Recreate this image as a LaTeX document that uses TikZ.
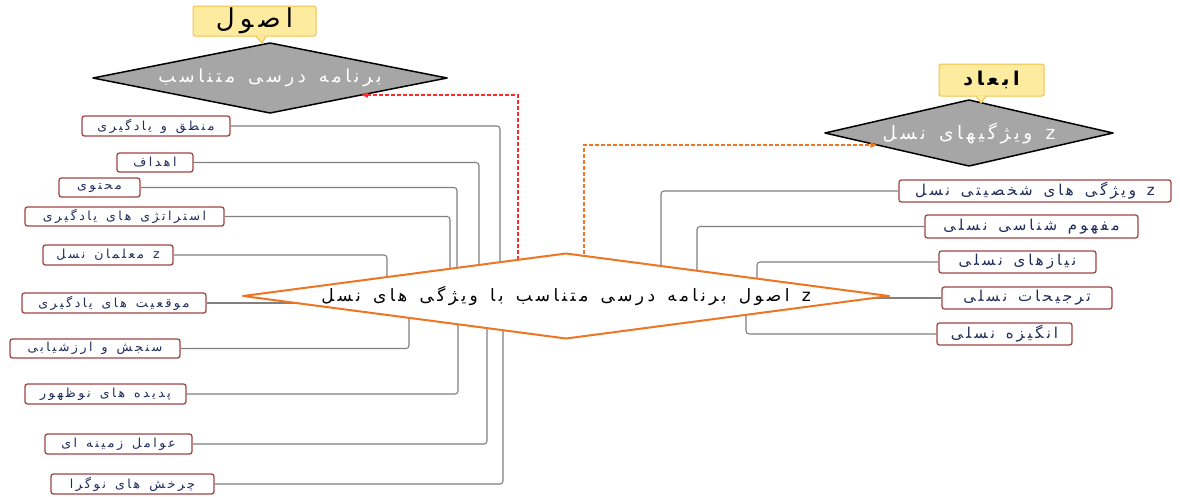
\documentclass[tikz,border=0pt]{standalone}
\usepackage{fontspec}
\setmainfont{DejaVu Sans}
\newfontfamily\fa[Script=Arabic, LetterSpace=20, WordSpace=1.4]{DejaVu Sans}
\TeXXeTstate=1
\usetikzlibrary{shapes.geometric,arrows.meta,calc}
\definecolor{boxred}{HTML}{A24545}
\definecolor{txtblue}{HTML}{1F2D5C}
\definecolor{connc}{HTML}{808080}
\definecolor{orng}{HTML}{EE7623}
\definecolor{dgray}{HTML}{A6A6A6}
\definecolor{calfill}{HTML}{FDEC9F}
\definecolor{caldraw}{HTML}{F1C24B}
\definecolor{redd}{HTML}{FF2A2A}
\newcommand{\rtl}[1]{\beginR #1\endR}
\begin{document}
\begin{tikzpicture}[x=1pt,y=-1pt,
  lbox/.style={draw=boxred, line width=1.3pt, rounded corners=2.5pt, fill=white, inner sep=0pt,
    font=\fa\fontsize{12.5}{13}\selectfont, text=txtblue},
  rbox/.style={lbox, font=\fa\fontsize{15}{16}\selectfont},
  connector/.style={draw=connc, line width=1.1pt, rounded corners=3pt},
  graydiam/.style={diamond, draw=black, line width=1.5pt, line join=round, fill=dgray, inner sep=0pt,
    outer sep=0pt, text=white, font=\fa\fontsize{18}{20}\selectfont},
  maindiam/.style={diamond, draw=orng, line width=2pt, line join=round, fill=white, inner sep=0pt,
    outer sep=0pt, text=black, font=\fa\fontsize{17}{19}\selectfont},
  callout/.style={draw=caldraw, line width=1pt, fill=calfill, rounded corners=2pt, inner sep=0pt, text=black},
  reddash/.style={draw=redd, line width=1.6pt, dash pattern=on 4pt off 2pt, -{Triangle[length=7pt,width=5pt]}},
  orngdash/.style={draw=orng, line width=1.6pt, dash pattern=on 4pt off 2pt, -{Triangle[length=7pt,width=5pt]}}
]
\useasboundingbox (0,0) rectangle (1180,496);
\fill[white] (0,0) rectangle (1180,496);

% top-left diamond and callout
\node[graydiam, minimum width=354pt, minimum height=70pt, aspect=5] (tl) at (270,78) {\rtl{برنامه درسی متناسب}};
\node[callout, minimum width=123pt, minimum height=30pt, font=\fa\fontsize{26}{28}\selectfont] (c1) at (254.5,21) {\rtl{اصول}};
\coordinate (c1t) at (262,43);
\fill[calfill] (256,35.3) -- (c1t) -- (266,35.3) -- cycle;
\draw[caldraw, line width=1pt] (256,36) -- (c1t) -- (266,36);

% right diamond and callout
\node[graydiam, minimum width=288pt, minimum height=66pt, aspect=4.4, font=\fa\fontsize{18.5}{20}\selectfont] (rd) at (969,133) {\rtl{z ویژگیهای نسل}};
\node[callout, minimum width=105pt, minimum height=32pt, font=\fa\bfseries\fontsize{19}{21}\selectfont] (c2) at (991.5,80) {\rtl{ابعاد}};
\coordinate (c2t) at (981,103);
\fill[calfill] (976,95.3) -- (c2t) -- (986,95.3) -- cycle;
\draw[caldraw, line width=1pt] (976,96) -- (c2t) -- (986,96);

% left boxes
\node[lbox, minimum width=148pt, minimum height=20pt] (b1) at (156,126) {\rtl{منطق و یادگیری}};
\node[lbox, minimum width=76pt, minimum height=19pt] (b2) at (155,162.5) {\rtl{اهداف}};
\node[lbox, minimum width=81pt, minimum height=19pt] (b3) at (99.5,187.5) {\rtl{محتوی}};
\node[lbox, minimum width=199pt, minimum height=19pt] (b4) at (124.5,216.5) {\rtl{استراتژی های یادگیری}};
\node[lbox, minimum width=130pt, minimum height=20pt] (b5) at (108,255) {\rtl{z معلمان نسل}};
\node[lbox, minimum width=184pt, minimum height=20pt] (b6) at (114,303) {\rtl{موقعیت های یادگیری}};
\node[lbox, minimum width=170pt, minimum height=19pt] (b7) at (95,348.5) {\rtl{سنجش و ارزشیابی}};
\node[lbox, minimum width=161pt, minimum height=20pt] (b8) at (105.5,394) {\rtl{پدیده های نوظهور}};
\node[lbox, minimum width=147pt, minimum height=20pt] (b9) at (118.5,444) {\rtl{عوامل زمینه ای}};
\node[lbox, minimum width=163pt, minimum height=20pt] (b10) at (132.5,484) {\rtl{چرخش های نوگرا}};

% right boxes
\node[rbox, minimum width=272pt, minimum height=22pt] (r1) at (1035,191) {\rtl{z ویژگی های شخصیتی نسل}};
\node[rbox, minimum width=213pt, minimum height=23pt] (r2) at (1031.5,226.5) {\rtl{مفهوم شناسی نسلی}};
\node[rbox, minimum width=157pt, minimum height=22pt] (r3) at (1017.5,262) {\rtl{نیازهای نسلی}};
\node[rbox, minimum width=170pt, minimum height=22pt] (r4) at (1027,298) {\rtl{ترجیحات نسلی}};
\node[rbox, minimum width=135pt, minimum height=22pt] (r5) at (1004.5,334) {\rtl{انگیزه نسلی}};

% junction points inside the main diamond
\coordinate (j1) at (500,296);
\coordinate (j2) at (479,296);
\coordinate (j3) at (457,296);
\coordinate (j4) at (450,296);
\coordinate (j5) at (387,296);
\coordinate (j6) at (400,303);
\coordinate (j7) at (409,296);
\coordinate (j8) at (458,296);
\coordinate (j9) at (487,296);
\coordinate (j10) at (503,296);
\coordinate (k1) at (661,296);
\coordinate (k2) at (697,296);
\coordinate (k3) at (757,296);
\coordinate (k4) at (800,298);
\coordinate (k5) at (746,296);

\draw[connector] (b1.east) -| (j1);
\draw[connector] (b2.east) -| (j2);
\draw[connector] (b3.east) -| (j3);
\draw[connector] (b4.east) -| (j4);
\draw[connector] (b5.east) -| (j5);
\draw[connector] (b6.east) -- (j6);
\draw[connector] (b7.east) -| (j7);
\draw[connector] (b8.east) -| (j8);
\draw[connector] (b9.east) -| (j9);
\draw[connector] (b10.east) -| (j10);
\draw[connector] (r1.west) -| (k1);
\draw[connector] (r2.west) -| (k2);
\draw[connector] (r3.west) -| (k3);
\draw[connector] (r4.west) -- (k4);
\draw[connector] (r5.west) -| (k5);

% dashed arrows
\coordinate (rs) at (518,290);
\coordinate (os) at (584,290);
\draw[reddash] (rs) |- ($(tl.east)!0.486!(tl.south)$);
\draw[orngdash] (os) |- ($(rd.west)!0.364!(rd.south)$);

% main diamond
\node[maindiam, minimum width=646pt, minimum height=85pt, aspect=7.6] (cd) at (566,296)
  {\rtl{z اصول برنامه درسی متناسب با ویژگی های نسل}};
\end{tikzpicture}
\end{document}
